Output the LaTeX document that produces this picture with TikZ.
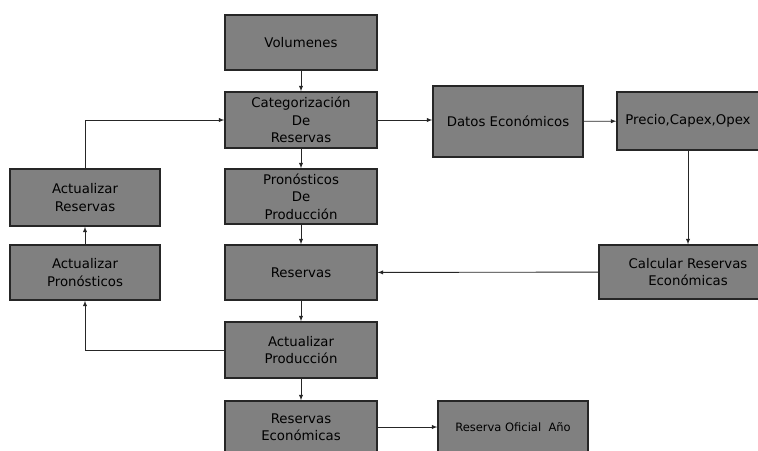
\documentclass[tikz,border=0pt]{standalone}
\usepackage{fontspec}
\setmainfont{DejaVu Sans}
\usetikzlibrary{arrows}

\begin{document}
\begin{tikzpicture}[>=latex,x=1pt,y=-1pt,
    caja/.style={draw=black!85,line width=1.3pt,fill=black!50,
      align=center,inner sep=0pt,font=\fontsize{13.3}{17.5}\selectfont,text=black},
    flecha/.style={->,line width=0.9pt,draw=black!85}]
    \useasboundingbox (0,0) rectangle (758,450);
    \clip (0,0) rectangle (758,450);
    % columna central
    \node[caja,minimum width=152,minimum height=55] (vol) at (301,42.5) {Volumenes};
    \node[caja,minimum width=152,minimum height=56] (cat) at (301,120) {Categorización\\De\\Reservas};
    \node[caja,minimum width=152,minimum height=55] (pron) at (301,196.5) {Pronósticos\\De\\Producción};
    \node[caja,minimum width=152,minimum height=55] (res) at (301,272.5) {Reservas};
    \node[caja,minimum width=152,minimum height=56] (actprod) at (301,350) {Actualizar\\Producción};
    \node[caja,minimum width=152,minimum height=52] (resecon) at (301,427) {Reservas\\Económicas};
    % columna izquierda
    \node[caja,minimum width=150,minimum height=57] (actres) at (85,197.5) {Actualizar\\Reservas};
    \node[caja,minimum width=150,minimum height=55] (actpron) at (85,272.5) {Actualizar\\Pronósticos};
    % lado derecho
    \node[caja,minimum width=150,minimum height=71] (datos) at (508,121.5) {Datos Económicos};
    \node[caja,minimum width=142,minimum height=58] (precio) at (688,121) {Precio,Capex,Opex};
    \node[caja,minimum width=178,minimum height=54] (calc) at (688,272) {Calcular Reservas\\Económicas};
    \node[caja,minimum width=150,minimum height=52] (resof) at (513,427) {\fontsize{11.5}{14}\selectfont Reserva Oficial\ \ Año};
    % flechas
    \draw[flecha] (vol) -- (cat);
    \draw[flecha] (cat) -- (pron);
    \draw[flecha] (pron) -- (res);
    \draw[flecha] (res) -- (actprod);
    \draw[flecha] (actprod) -- (resecon);
    \draw[flecha] (cat.east) -- (datos.west |- cat.east);
    \draw[flecha] (datos) -- (precio);
    \draw[flecha] (precio) -- (calc);
    \draw[flecha] (calc) -- (res);
    \draw[flecha] (resecon) -- (resof);
    \draw[flecha] (actprod.west) -| (actpron.south);
    \draw[flecha] (actpron) -- (actres);
    \draw[flecha] (actres.north) |- (cat.west);
\end{tikzpicture}
\end{document}
